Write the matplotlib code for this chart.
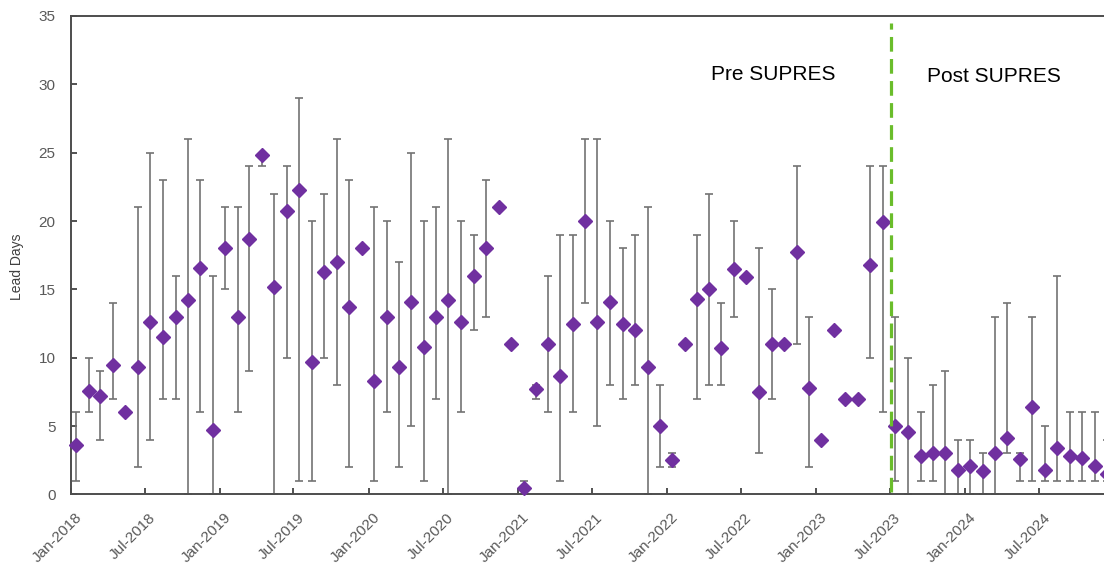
import datetime as dt
import numpy as np
import pandas as pd
import matplotlib
matplotlib.use("Agg")
import matplotlib.pyplot as plt
import matplotlib.dates as mdates
from matplotlib.transforms import ScaledTranslation

plt.rcParams["font.family"] = ["Liberation Sans", "DejaVu Sans"]

# one point per month, Jan-2018 .. Dec-2024 (plotted mid-month)
months = pd.date_range("2018-01-01", "2024-12-01", freq="MS")
tick_months = pd.date_range("2018-01-01", "2024-07-01", freq="6MS")

lead_days = [3.6, 7.6, 7.2, 9.5, 6.0, 9.3, 12.6, 11.5, 13.0, 14.2, 16.6, 4.7,
             18.0, 13.0, 18.7, 24.8, 15.2, 20.7, 22.3, 9.7, 16.3, 17.0, 13.7, 18.0,
             8.3, 13.0, 9.3, 14.1, 10.8, 13.0, 14.2, 12.6, 16.0, 18.0, 21.0, 11.0,
             0.5, 7.7, 11.0, 8.7, 12.5, 20.0, 12.6, 14.1, 12.5, 12.0, 9.3, 5.0,
             2.5, 11.0, 14.3, 15.0, 10.7, 16.5, 15.9, 7.5, 11.0, 11.0, 17.7, 7.8,
             4.0, 12.0, 7.0, 7.0, 16.8, 19.9, 5.0, 4.6, 2.8, 3.0, 3.0, 1.8,
             2.1, 1.7, 3.0, 4.1, 2.6, 6.4, 1.8, 3.4, 2.8, 2.7, 2.1, 1.5]

nan = np.nan
low = [1, 6, 4, 7, nan, 2, 4, 7, 7, 0, 6, 0,
       15, 6, 9, 24, 0, 10, 1, 1, 10, 8, 2, nan,
       1, 6, 2, 5, 1, 7, 0, 6, 12, 13, nan, nan,
       0, 7, 6, 1, 6, 14, 5, 8, 7, 8, 0, 2,
       2, nan, 7, 8, 8, 13, nan, 3, 7, nan, 11, 2,
       nan, nan, nan, nan, 10, 6, 1, 0, 1, 1, 0, 0,
       0, 0, 0, 3, 1, 1, 1, 1, 1, 1, 1, 1]
high = [6, 10, 9, 14, nan, 21, 25, 23, 16, 26, 23, 16,
        21, 21, 24, 25, 22, 24, 29, 20, 22, 26, 23, nan,
        21, 20, 17, 25, 20, 21, 26, 20, 19, 23, nan, nan,
        1, 8, 16, 19, 19, 26, 26, 20, 18, 19, 21, 8,
        3, nan, 19, 22, 14, 20, nan, 18, 15, nan, 24, 13,
        nan, nan, nan, nan, 24, 24, 13, 10, 6, 8, 9, 4,
        4, 3, 13, 14, 3, 13, 5, 16, 6, 6, 6, 4]

supres_start = dt.datetime(2023, 7, 5)

x = np.array((months + pd.Timedelta(days=14)).to_pydatetime())
y = np.array(lead_days)
lo = np.array(low, dtype=float)
hi = np.array(high, dtype=float)
has_bar = ~np.isnan(lo)

fig = plt.figure(figsize=(11.04, 5.69), dpi=100)
ax = fig.add_axes([0.064, 0.131, 0.945, 0.841])

ax.errorbar(x[has_bar], y[has_bar],
            yerr=[y[has_bar] - lo[has_bar], hi[has_bar] - y[has_bar]],
            fmt="none", ecolor="#737373", elinewidth=1.2, capsize=3, capthick=1.2,
            zorder=2)
ax.plot(x, y, linestyle="none", marker="D", markersize=7, color="#7030A0",
        markeredgecolor="#7030A0", zorder=3, clip_on=False)

ax.axvline(supres_start, ymin=0.005, ymax=0.985, color="#6ABD2B", lw=2.3,
           linestyle=(0, (4.6, 2.3)), zorder=4)

ax.text(dt.datetime(2022, 9, 20), 30.7, "Pre SUPRES", fontsize=15, ha="center",
        va="center", color="black")
ax.text(dt.datetime(2024, 3, 12), 30.6, "Post SUPRES", fontsize=15, ha="center",
        va="center", color="black")

ax.set_xlim(dt.datetime(2018, 1, 1), dt.datetime(2025, 1, 1))
ax.set_ylim(0, 35)
ax.set_yticks(range(0, 36, 5))
ax.set_xticks(tick_months.to_pydatetime())
ax.xaxis.set_major_formatter(mdates.DateFormatter("%b-%Y"))

ax.tick_params(axis="both", direction="in", length=4, width=1.2, color="#333333",
               labelcolor="#595959", labelsize=11)
ax.tick_params(axis="y", pad=11)
ax.tick_params(axis="x", pad=15)
offset = ScaledTranslation(9 / 100, 0, fig.dpi_scale_trans)
for lab in ax.get_xticklabels():
    lab.set_rotation(45)
    lab.set_ha("right")
    lab.set_va("center")
    lab.set_rotation_mode("anchor")
    lab.set_transform(lab.get_transform() + offset)

ax.set_ylabel("Lead Days", fontsize=10, color="#404040")
ax.yaxis.set_label_coords(-0.045, 0.475)

for side in ["left", "bottom", "top", "right"]:
    ax.spines[side].set_color("#4d4d4d")
    ax.spines[side].set_linewidth(1.4)

fig.savefig("out.png", dpi=100)
